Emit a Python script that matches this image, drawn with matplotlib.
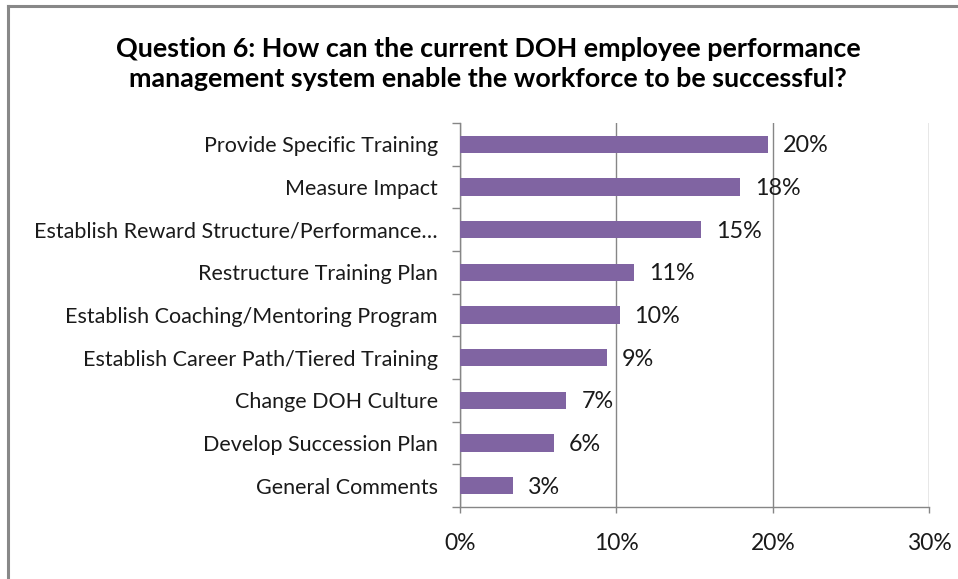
import matplotlib
matplotlib.use("Agg")
import matplotlib.pyplot as plt
from matplotlib.lines import Line2D
from matplotlib.ticker import FixedLocator, PercentFormatter

plt.rcParams['font.family'] = ['Lato', 'DejaVu Sans']

# Survey responses (share of comments), top to bottom
categories = [
    "Provide Specific Training",
    "Measure Impact",
    "Establish Reward Structure/Performance\u2026",
    "Restructure Training Plan",
    "Establish Coaching/Mentoring Program",
    "Establish Career Path/Tiered Training",
    "Change DOH Culture",
    "Develop Succession Plan",
    "General Comments",
]
shares = [0.197, 0.179, 0.154, 0.111, 0.102, 0.094, 0.068, 0.060, 0.034]
x_ticks = [0.0, 0.1, 0.2, 0.3]

title = ("Question 6: How can the current DOH employee performance\n"
         "management system enable the workforce to be successful?")

bar_color = "#8064A2"
axis_color = "#868686"
text_color = "#1a1a1a"

fig = plt.figure(figsize=(9.58, 5.79), dpi=100)
ax = fig.add_axes([460 / 958, 1 - 507 / 579, (929.3 - 460) / 958, (507 - 123) / 579])

n = len(categories)
ypos = list(range(n))[::-1]
ax.barh(ypos, shares, height=0.41, color=bar_color, edgecolor="none", zorder=3)

ax.set_xlim(0, 0.3)
ax.set_ylim(-0.5, n - 0.5)

# Vertical gridlines
ax.xaxis.set_major_locator(FixedLocator(x_ticks))
ax.xaxis.set_major_formatter(PercentFormatter(1.0, decimals=0))
ax.grid(axis="x", color=axis_color, linewidth=1.0, zorder=0)

# Category labels at bar centers, tick marks at category boundaries
ax.set_yticks(ypos)
ax.set_yticklabels(categories)
ax.set_yticks([i - 0.5 for i in range(n + 1)], minor=True)
ax.tick_params(axis="y", which="major", length=0, pad=16, labelsize=15.5,
               labelcolor=text_color)
ax.tick_params(axis="y", which="minor", length=6, width=1, color=axis_color)
ax.tick_params(axis="x", which="major", length=4.5, width=1, color=axis_color,
               pad=14, labelsize=16.5, labelcolor=text_color)

for side in ("top", "right"):
    ax.spines[side].set_visible(False)
for side in ("left", "bottom"):
    ax.spines[side].set_color(axis_color)
    ax.spines[side].set_linewidth(1.0)

# Value labels
for y, v in zip(ypos, shares):
    ax.annotate(f"{v * 100:.0f}%", xy=(v, y), xytext=(15, -1.5),
                textcoords="offset pixels",
                va="center", ha="left", fontsize=16.8, color=text_color)

fig.text(488 / 958, 1 - 64 / 579, title, ha="center", va="center",
         fontsize=19.4, fontweight="bold", color="#000000", linespacing=1.3)

# Chart frame (left and top edges)
fig.add_artist(Line2D([8 / 958, 8 / 958], [0, 1 - 5.5 / 579], transform=fig.transFigure,
                      color="#888888", linewidth=2.2))
fig.add_artist(Line2D([8 / 958, 1], [1 - 5.5 / 579, 1 - 5.5 / 579], transform=fig.transFigure,
                      color="#888888", linewidth=2.2))

fig.savefig("out.png", dpi=100, facecolor="white")
